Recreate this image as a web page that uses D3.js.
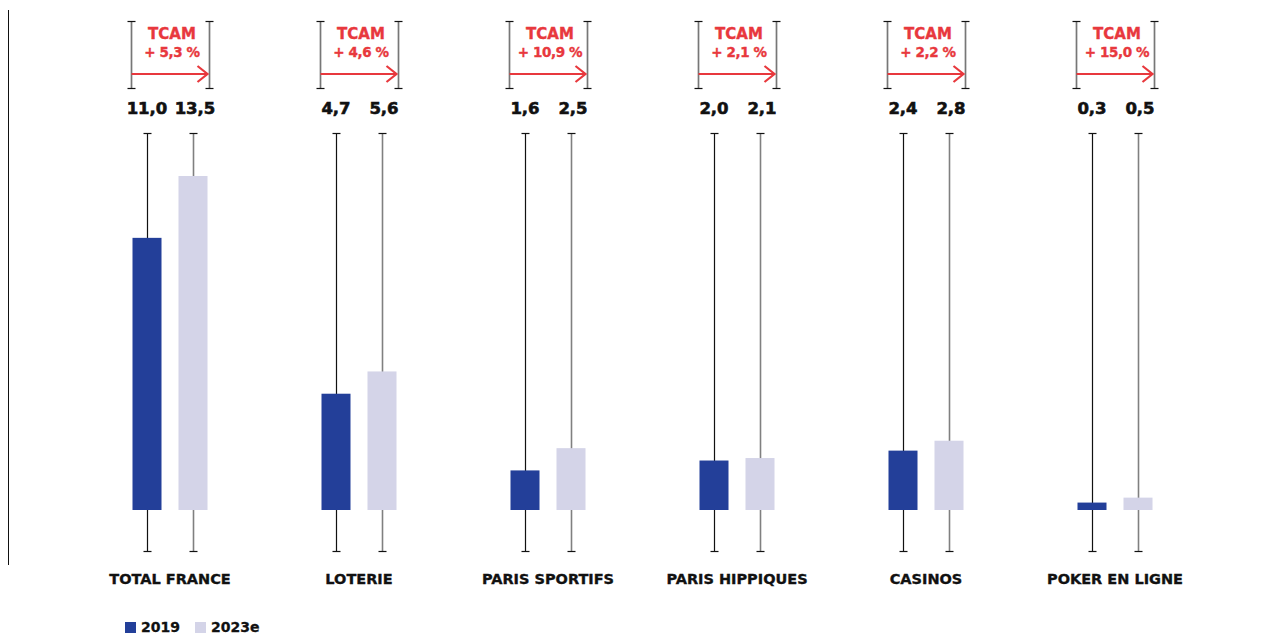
<!DOCTYPE html>
<html><head><meta charset="utf-8">
<script src="https://cdn.jsdelivr.net/npm/d3@7"></script>
<style>
html,body{margin:0;padding:0;background:#fff;}
svg{display:block;font-family:"DejaVu Sans",sans-serif;}
</style></head>
<body><svg id="c" width="1278" height="635"></svg>
<script>
const categories = ["TOTAL FRANCE","LOTERIE","PARIS SPORTIFS","PARIS HIPPIQUES","CASINOS","POKER EN LIGNE"];
const seriesNames = ["2019","2023e"];
const values2019 = [11.0, 4.7, 1.6, 2.0, 2.4, 0.3];
const values2023 = [13.5, 5.6, 2.5, 2.1, 2.8, 0.5];
const valueLabels2019 = ["11,0","4,7","1,6","2,0","2,4","0,3"];
const valueLabels2023 = ["13,5","5,6","2,5","2,1","2,8","0,5"];
const tcamLabels = ["+ 5,3 %","+ 4,6 %","+ 10,9 %","+ 2,1 %","+ 2,2 %","+ 15,0 %"];

const colors = {"2019":"#233f99","2023e":"#d4d4e8"};
const lineColors = {"2019":"#111","2023e":"#808080"};
const red = "#e8383d";

const svg = d3.select("#c");
const x = d3.scaleBand().domain(categories).range([75.5, 1209.5]).paddingInner(0);
const xi = d3.scalePoint().domain(seriesNames).range([-23, 23]);
const y = d3.scaleLinear().domain([0, 13.5]).range([510, 176]);
const barW = 29;

// left axis line
svg.append("line").attr("x1",8.5).attr("x2",8.5).attr("y1",10).attr("y2",565)
  .attr("stroke","#111").attr("stroke-width",1);

const data = [];
categories.forEach((c,i)=>{
  data.push({cat:c, s:"2019", v:values2019[i], lab:valueLabels2019[i]});
  data.push({cat:c, s:"2023e", v:values2023[i], lab:valueLabels2023[i]});
});

const cx = d => x(d.cat) + x.bandwidth()/2 + xi(d.s);

// whiskers
const g = svg.append("g");
g.selectAll("line.wh").data(data).join("line").attr("class","wh")
  .attr("x1",d=>Math.round(cx(d))+0.5).attr("x2",d=>Math.round(cx(d))+0.5)
  .attr("y1",133.5).attr("y2",551)
  .attr("stroke",d=>lineColors[d.s]).attr("stroke-width",d=>d.s==="2019"?1.2:1.6);
g.selectAll("line.capT").data(data).join("line").attr("class","capT")
  .attr("x1",d=>Math.round(cx(d))-3.5).attr("x2",d=>Math.round(cx(d))+4.5)
  .attr("y1",133.5).attr("y2",133.5).attr("stroke","#111").attr("stroke-width",1.2);
g.selectAll("line.capB").data(data).join("line").attr("class","capB")
  .attr("x1",d=>Math.round(cx(d))-3.5).attr("x2",d=>Math.round(cx(d))+4.5)
  .attr("y1",551.5).attr("y2",551.5).attr("stroke","#111").attr("stroke-width",1.2);

// bars
g.selectAll("rect").data(data).join("rect")
  .attr("x",d=>cx(d)-barW/2).attr("width",barW)
  .attr("y",d=>y(d.v)).attr("height",d=>y(0)-y(d.v))
  .attr("fill",d=>colors[d.s]);

// value labels
g.selectAll("text.val").data(data).join("text").attr("class","val")
  .attr("x",d=>cx(d) + (d.s==="2019" ? 0 : 2)).attr("y",113.5).attr("text-anchor","middle")
  .attr("font-size",16.5).attr("font-weight",700).attr("fill","#111")
  .attr("stroke","#111").attr("stroke-width",0.6)
  .text(d=>d.lab);

// category labels
svg.selectAll("text.cat").data(categories).join("text").attr("class","cat")
  .attr("x",d=>x(d)+x.bandwidth()/2).attr("y",584).attr("text-anchor","middle")
  .attr("font-size",14.5).attr("font-weight",700).attr("fill","#111")
  .attr("stroke","#111").attr("stroke-width",0.35)
  .text(d=>d);

// TCAM brackets
categories.forEach((c,i)=>{
  const gc = x(c) + x.bandwidth()/2;
  const L = Math.round(gc-39)+0.5, R = Math.round(gc+39)+0.5;
  const t = svg.append("g");
  [L,R].forEach(xx=>{
    t.append("line").attr("x1",xx).attr("x2",xx).attr("y1",21).attr("y2",89)
      .attr("stroke","#777").attr("stroke-width",1.7);
    t.append("line").attr("x1",xx-4).attr("x2",xx+4).attr("y1",21.5).attr("y2",21.5)
      .attr("stroke","#111").attr("stroke-width",1.2);
    t.append("line").attr("x1",xx-4).attr("x2",xx+4).attr("y1",88.5).attr("y2",88.5)
      .attr("stroke","#111").attr("stroke-width",1.2);
  });
  t.append("line").attr("x1",L).attr("x2",R-2).attr("y1",74).attr("y2",74)
    .attr("stroke",red).attr("stroke-width",2.2);
  t.append("path").attr("d",`M${R-12},${66} L${R-2},${74} L${R-12},${82}`)
    .attr("fill","none").attr("stroke",red).attr("stroke-width",2.2);
  t.append("text").attr("x",gc+2).attr("y",39).attr("text-anchor","middle")
    .attr("font-size",15).attr("font-weight",700).attr("fill",red)
    .attr("stroke",red).attr("stroke-width",0.35).text("TCAM");
  t.append("text").attr("x",gc+2).attr("y",57).attr("text-anchor","middle")
    .attr("font-size",13.5).attr("font-weight",700).attr("fill",red)
    .attr("stroke",red).attr("stroke-width",0.35).attr("letter-spacing","-0.4").text(tcamLabels[i]);
});

// legend
const leg = svg.append("g");
seriesNames.forEach((s,i)=>{
  const lx = 125 + i*70;
  leg.append("rect").attr("x",lx).attr("y",622).attr("width",11).attr("height",11).attr("fill",colors[s]);
  leg.append("text").attr("x",lx+16).attr("y",632).attr("font-size",14).attr("font-weight",700)
    .attr("fill","#111").attr("stroke","#111").attr("stroke-width",0.3).text(s);
});
</script></body></html>
